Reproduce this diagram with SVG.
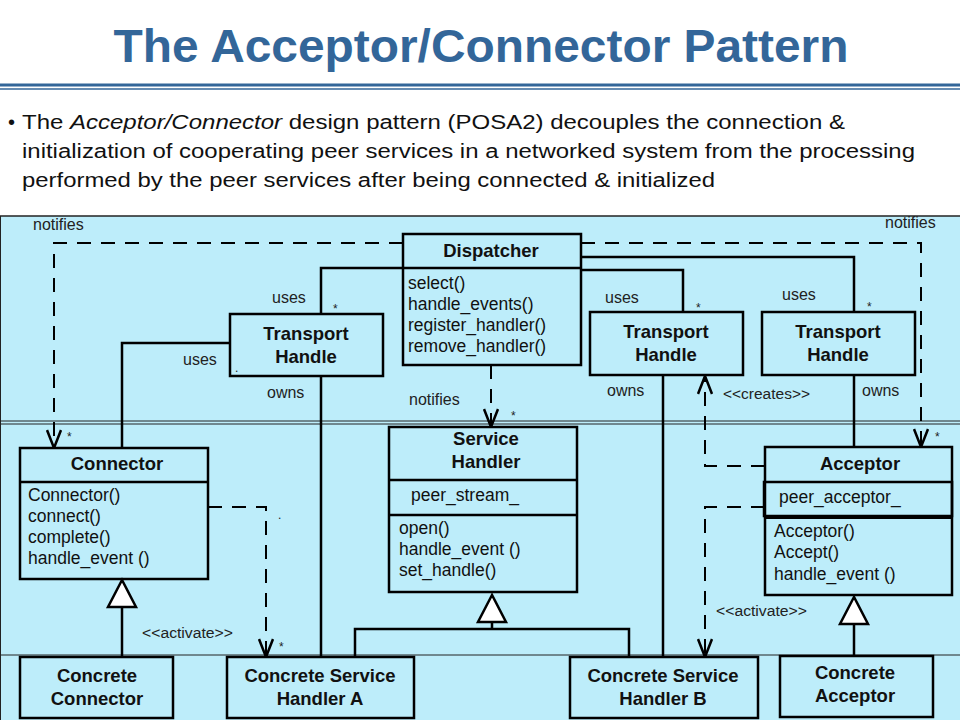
<svg xmlns="http://www.w3.org/2000/svg" width="960" height="720" viewBox="0 0 960 720">
<defs>
<style>
.box{fill:none;stroke:#000;stroke-width:2.5}
.ln{fill:none;stroke:#000;stroke-width:2.5}
.dash{fill:none;stroke:#000;stroke-width:2;stroke-dasharray:14,10}
.tri{fill:#fff;stroke:#000;stroke-width:2.5}
.t{font-family:"Liberation Sans",Arial,sans-serif;fill:#111}
.b{font-weight:bold;font-size:18.5px;text-anchor:middle}
.m{font-size:17.5px}
.lb{font-size:16px;fill:#222}
.st{font-size:12px;fill:#222}
.sm{font-size:14px;fill:#222}
</style>
<marker id="open" viewBox="0 0 20 16" refX="19" refY="8" markerWidth="20" markerHeight="16" markerUnits="userSpaceOnUse" orient="auto">
<path d="M1,1 L19,8 L1,15" fill="none" stroke="#000" stroke-width="2.5"/>
</marker>
</defs>
<rect width="960" height="720" fill="#fff"/>
<text x="481" y="62" class="t" text-anchor="middle" font-weight="bold" font-size="46" style="fill:#336699" textLength="735" lengthAdjust="spacingAndGlyphs">The Acceptor/Connector Pattern</text>
<line x1="0" y1="85" x2="960" y2="85" stroke="#336699" stroke-width="3"/>
<line x1="0" y1="89" x2="960" y2="89" stroke="#336699" stroke-width="1.5"/>
<text x="8" y="129" class="t" font-size="20">•</text>
<text x="22" y="129" class="t" font-size="20" textLength="823" lengthAdjust="spacingAndGlyphs">The <tspan font-style="italic">Acceptor/Connector</tspan> design pattern (POSA2) decouples the connection &amp;</text>
<text x="22" y="158" class="t" font-size="20" textLength="893" lengthAdjust="spacingAndGlyphs">initialization of cooperating peer services in a networked system from the processing</text>
<text x="22" y="187" class="t" font-size="20" textLength="693" lengthAdjust="spacingAndGlyphs">performed by the peer services after being connected &amp; initialized</text>

<rect x="0" y="216" width="960" height="504" fill="#bdedfa"/>
<line x1="0" y1="216" x2="960" y2="216" stroke="#222" stroke-width="1.5"/>
<line x1="0" y1="421" x2="960" y2="421" stroke="#222" stroke-width="1"/>
<line x1="0" y1="424" x2="960" y2="424" stroke="#222" stroke-width="1"/>
<line x1="0" y1="655" x2="960" y2="655" stroke="#222" stroke-width="1"/>
<line x1="0.5" y1="216" x2="0.5" y2="720" stroke="#222" stroke-width="1"/>

<g id="connectors">
<path class="ln" d="M403,268 H321 V314"/>
<path class="ln" d="M230,343 H122 V448"/>
<path class="ln" d="M321,376 V657"/>
<path class="ln" d="M581,270 H683 V312"/>
<path class="ln" d="M581,257 H854 V312"/>
<path class="ln" d="M663,375 V657"/>
<path class="ln" d="M854,375 V447"/>
<path class="dash" d="M403,243 H54 V448" marker-end="url(#open)"/>
<path class="dash" d="M581,243 H921 V447" marker-end="url(#open)"/>
<path class="dash" d="M491,365 V427" marker-end="url(#open)"/>
<path class="dash" d="M765,466 H705 V376" marker-end="url(#open)"/>
<path class="dash" d="M765,507 H705 V657" marker-end="url(#open)"/>
<path class="dash" d="M208,507 H266 V657" marker-end="url(#open)"/>
<path class="ln" d="M122,657 V607"/>
<polygon class="tri" points="122,580 108,607 136,607"/>
<path class="ln" d="M492,622 V629 M355,657 V629 H629 V657"/>
<polygon class="tri" points="492,595 478,622 506,622"/>
<path class="ln" d="M854,656 V624"/>
<polygon class="tri" points="854,597 840,624 868,624"/>
<text x="33" y="230" class="t lb">notifies</text>
<text x="885" y="228" class="t lb">notifies</text>
<text x="272" y="303" class="t lb">uses</text>
<text x="333" y="313" class="t st">*</text>
<text x="183" y="365" class="t lb">uses</text>
<text x="267" y="398" class="t lb">owns</text>
<text x="605" y="303" class="t lb">uses</text>
<text x="696" y="312" class="t st">*</text>
<text x="782" y="300" class="t lb">uses</text>
<text x="867" y="311" class="t st">*</text>
<text x="607" y="396" class="t lb">owns</text>
<text x="862" y="396" class="t lb">owns</text>
<text x="409" y="405" class="t lb">notifies</text>
<text x="511" y="420" class="t st">*</text>
<text x="723" y="399" class="t sm" textLength="87" lengthAdjust="spacingAndGlyphs">&lt;&lt;creates&gt;&gt;</text>
<text x="67" y="441" class="t st">*</text>
<text x="935" y="441" class="t st">*</text>
<text x="142" y="638" class="t sm" textLength="91" lengthAdjust="spacingAndGlyphs">&lt;&lt;activate&gt;&gt;</text>
<text x="279" y="651" class="t st">*</text>
<text x="716" y="616" class="t sm" textLength="91" lengthAdjust="spacingAndGlyphs">&lt;&lt;activate&gt;&gt;</text>
<text x="278" y="519" class="t st">.</text>
</g>

<g id="dispatcher">
<rect class="box" x="403" y="234" width="178" height="131"/>
<line class="ln" x1="403" y1="268" x2="581" y2="268"/>
<text x="491" y="257" class="t b">Dispatcher</text>
<text x="408" y="289" class="t m">select()</text>
<text x="408" y="310" class="t m">handle_events()</text>
<text x="408" y="331" class="t m">register_handler()</text>
<text x="408" y="352" class="t m">remove_handler()</text>
</g>
<g id="th1">
<rect class="box" x="230" y="314" width="153" height="62"/>
<text x="306" y="340" class="t b">Transport</text>
<text x="306" y="363" class="t b">Handle</text>
<text x="235" y="372" class="t st">.</text>
</g>
<g id="th2">
<rect class="box" x="590" y="312" width="153" height="63"/>
<text x="666" y="338" class="t b">Transport</text>
<text x="666" y="361" class="t b">Handle</text>
</g>
<g id="th3">
<rect class="box" x="762" y="312" width="153" height="63"/>
<text x="838" y="338" class="t b">Transport</text>
<text x="838" y="361" class="t b">Handle</text>
</g>
<g id="connector">
<rect class="box" x="20" y="448" width="188" height="131"/>
<line class="ln" x1="20" y1="482" x2="208" y2="482"/>
<text x="117" y="470" class="t b">Connector</text>
<text x="28" y="501" class="t m">Connector()</text>
<text x="28" y="522" class="t m">connect()</text>
<text x="28" y="543" class="t m">complete()</text>
<text x="28" y="564" class="t m">handle_event ()</text>
</g>
<g id="service-handler">
<rect class="box" x="389" y="427" width="188" height="165"/>
<line class="ln" x1="389" y1="480" x2="577" y2="480"/>
<line class="ln" x1="389" y1="515" x2="577" y2="515"/>
<text x="486" y="445" class="t b">Service</text>
<text x="486" y="468" class="t b">Handler</text>
<text x="411" y="501" class="t m">peer_stream_</text>
<text x="399" y="534" class="t m">open()</text>
<text x="399" y="555" class="t m">handle_event ()</text>
<text x="399" y="576" class="t m">set_handle()</text>
</g>
<g id="acceptor">
<rect class="box" x="765" y="447" width="187" height="148"/>
<rect class="box" x="764" y="482" width="188" height="34"/>
<line x1="764" y1="517" x2="952" y2="517" stroke="#000" stroke-width="4"/>
<text x="860" y="470" class="t b">Acceptor</text>
<text x="779" y="503" class="t m">peer_acceptor_</text>
<text x="774" y="537" class="t m">Acceptor()</text>
<text x="774" y="558" class="t m">Accept()</text>
<text x="774" y="580" class="t m">handle_event ()</text>
</g>
<g id="concrete-connector">
<rect class="box" x="20" y="657" width="153" height="61"/>
<text x="97" y="682" class="t b">Concrete</text>
<text x="97" y="705" class="t b">Connector</text>
</g>
<g id="concrete-handler-a">
<rect class="box" x="227" y="657" width="187" height="61"/>
<text x="320" y="682" class="t b">Concrete Service</text>
<text x="320" y="705" class="t b">Handler A</text>
</g>
<g id="concrete-handler-b">
<rect class="box" x="570" y="657" width="188" height="61"/>
<text x="663" y="682" class="t b">Concrete Service</text>
<text x="663" y="705" class="t b">Handler B</text>
</g>
<g id="concrete-acceptor">
<rect class="box" x="780" y="656" width="153" height="61"/>
<text x="855" y="679" class="t b">Concrete</text>
<text x="855" y="702" class="t b">Acceptor</text>
</g>
</svg>
